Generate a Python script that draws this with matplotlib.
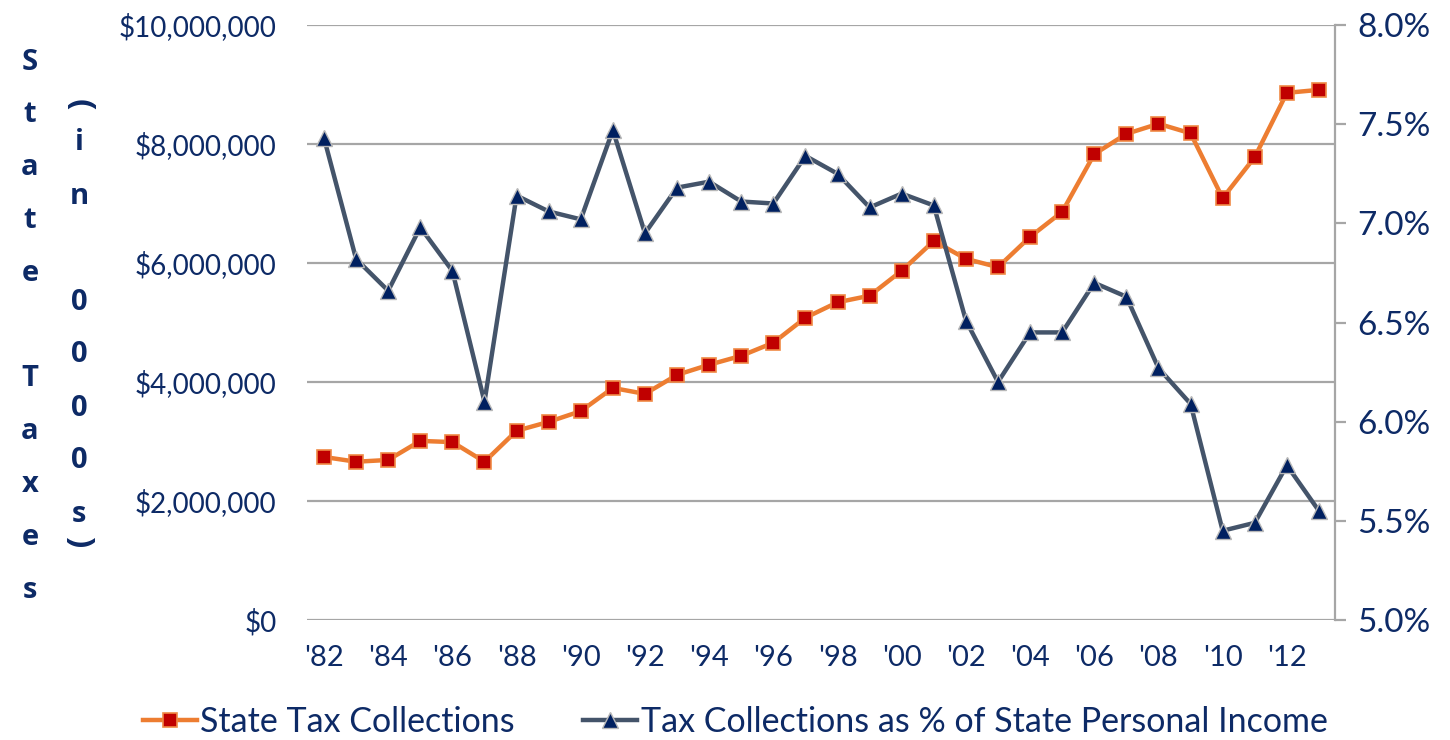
import matplotlib
matplotlib.use('Agg')
import matplotlib.pyplot as plt
from matplotlib.ticker import FuncFormatter, MultipleLocator, FixedLocator

years = list(range(1982, 2014))
tax_collections = [2740000, 2660000, 2690000, 3010000, 2990000, 2660000, 3180000, 3330000,
                   3510000, 3900000, 3800000, 4120000, 4290000, 4440000, 4660000, 5080000,
                   5340000, 5450000, 5870000, 6370000, 6070000, 5930000, 6440000, 6860000,
                   7830000, 8170000, 8340000, 8180000, 7090000, 7780000, 8860000, 8910000]
pct_income = [7.43, 6.82, 6.66, 6.98, 6.76, 6.10, 7.14, 7.06, 7.02, 7.47, 6.95, 7.18,
              7.21, 7.11, 7.10, 7.34, 7.25, 7.08, 7.15, 7.09, 6.51, 6.20, 6.45, 6.45,
              6.70, 6.63, 6.27, 6.09, 5.45, 5.49, 5.78, 5.55]
tick_years = list(range(1982, 2013, 2))
tick_labels = ["'82", "'84", "'86", "'88", "'90", "'92", "'94", "'96", "'98", "'00",
               "'02", "'04", "'06", "'08", "'10", "'12"]
series_names = ["State Tax Collections", "Tax Collections as % of State Personal Income"]
ylabel_col1 = ["S", "t", "a", "t", "e", "", "T", "a", "x", "e", "s"]
ylabel_col2 = ["(", "i", "n", "", "0", "0", "0", "0", "s", ")"]

FONT = ['Lato', 'DejaVu Sans']
plt.rcParams['font.family'] = FONT
NAVY = '#0D2A66'
GRID = '#A6A6A6'

fig = plt.figure(figsize=(14.5, 7.4), dpi=100)
ax = fig.add_axes([307/1450, 1-620/740, (1335-307)/1450, (620-25)/740])
ax2 = ax.twinx()

l1, = ax.plot(years, tax_collections, color='#ED7D31', lw=3.2, marker='s', ms=10,
              mfc='#C00000', mec='#F08A45', mew=1.2, zorder=3, label=series_names[0])
l2, = ax2.plot(years, pct_income, color='#44546A', lw=3.2, marker='^', ms=11,
               mfc='#002060', mec='#B8B8B8', mew=1.0, zorder=3, label=series_names[1])

ax.set_xlim(1981.47, 2013.5)
ax.set_ylim(0, 10000000)
ax2.set_ylim(5.0, 8.0)
ax.yaxis.set_major_locator(MultipleLocator(2000000))
ax.yaxis.set_major_formatter(FuncFormatter(lambda v, p: f"${v:,.0f}"))
ax2.yaxis.set_major_locator(MultipleLocator(0.5))
ax2.yaxis.set_major_formatter(FuncFormatter(lambda v, p: f"{v:.1f}%"))
ax.xaxis.set_major_locator(FixedLocator(tick_years))
ax.set_xticklabels(tick_labels)

ax.grid(axis='y', color=GRID, lw=1.6, zorder=0)
ax.set_axisbelow(True)
for a in (ax, ax2):
    for s in ('top', 'left', 'bottom'):
        a.spines[s].set_visible(False)
ax.spines['right'].set_visible(False)
ax2.spines['right'].set_color(GRID)
ax2.spines['right'].set_linewidth(1.6)

ax.tick_params(axis='y', length=0, pad=22, labelsize=20, labelcolor=NAVY)
ax.tick_params(axis='x', length=0, pad=18, labelsize=21, labelcolor=NAVY)
ax2.tick_params(axis='y', length=8, width=1.6, color=GRID, pad=8, labelsize=24,
                labelcolor=NAVY)

# stacked vertical axis title
TFONT = ['Open Sans', 'DejaVu Sans']
for i, ch in enumerate(ylabel_col1):
    if ch:
        fig.text(30/1450, 1-(62 + i*52.8)/740, ch, ha='center', va='center',
                 fontsize=21, fontweight='bold', color=NAVY, family=TFONT)
col2_y = [105, 142, 197, 249, 302, 355, 408, 461, 515, 542]
for ch, yy in zip(ylabel_col2, col2_y):
    if ch:
        rot = -90 if ch in '()' else 0
        fig.text(79/1450, 1-yy/740, ch, ha='center', va='center', rotation=rot,
                 fontsize=24 if ch in '()' else 21, fontweight='bold', color=NAVY,
                 family=TFONT)

fig.legend(handles=[l1, l2], loc='center', bbox_to_anchor=(0.507, 1-722/740), ncol=2,
           frameon=False, fontsize=24.5, labelcolor=NAVY, handlelength=1.6,
           handletextpad=0.1, columnspacing=2.0)

fig.savefig('out.png', dpi=100)
